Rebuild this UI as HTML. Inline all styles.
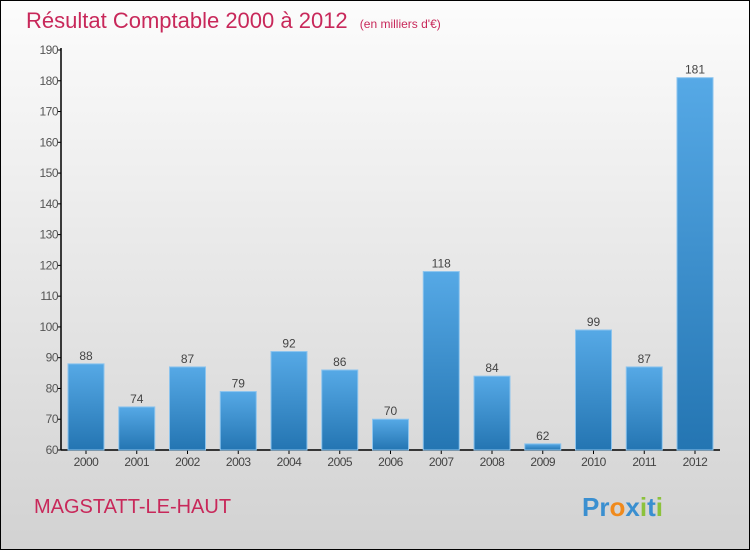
<!DOCTYPE html>
<html><head><meta charset="utf-8"><style>
html,body{margin:0;padding:0}
body{width:750px;height:550px;overflow:hidden;font-family:"Liberation Sans",sans-serif}
#frame{position:absolute;left:0;top:0;width:748px;height:548px;border:1px solid #000;background:linear-gradient(#fcfcfc,#d2d2d2)}
</style></head><body>
<div id="frame"></div>
<svg id="chart" width="750" height="550" style="position:absolute;left:0;top:0">
<defs><linearGradient id="bg" x1="0" y1="0" x2="0" y2="1"><stop offset="0" stop-color="#56a9e6"/><stop offset="1" stop-color="#2475b2"/></linearGradient></defs>
<text x="26" y="28" font-size="22" fill="#c8285a">Résultat Comptable 2000 à 2012 <tspan font-size="12" dx="6">(en milliers d'€)</tspan></text>
<text x="34" y="513" font-size="20" fill="#c8285a">MAGSTATT-LE-HAUT</text>
<text x="582" y="516" font-size="26" font-weight="bold" fill="#3a8fd0"><tspan fill="#3a8fd0">Pr</tspan><tspan fill="#f08a1c">o</tspan><tspan fill="#3a8fd0">x</tspan><tspan fill="#8cc23c">i</tspan><tspan fill="#3a8fd0">t</tspan><tspan fill="#8cc23c">i</tspan></text>
<g id="axes"></g><g id="bars"></g>
</svg>
<script>
const categories=["2000","2001","2002","2003","2004","2005","2006","2007","2008","2009","2010","2011","2012"];
const values=[88,74,87,79,92,86,70,118,84,62,99,87,181];
const yTicks=[60,70,80,90,100,110,120,130,140,150,160,170,180,190];
const NS="http://www.w3.org/2000/svg";
const y0=450,y1=50,vmin=60,vmax=190,xL=61,xR=720;
function y(v){return y0-(v-vmin)/(vmax-vmin)*(y0-y1);}
function x(i){return 86+i*50.75;}
function mk(t,a,p){const e=document.createElementNS(NS,t);for(const k in a)e.setAttribute(k,a[k]);p.appendChild(e);return e;}
const ax=document.getElementById('axes'),bs=document.getElementById('bars');
const yl=mk('line',{x1:xL,y1:y0,x2:xL,y2:y1-2,stroke:'#000','stroke-width':1.5},ax);


const xl=mk('line',{x1:xL,y1:y0,x2:xR,y2:y0,stroke:'#000','stroke-width':1.5},ax);


yTicks.forEach(v=>{
 mk('line',{x1:xL-3,y1:y(v),x2:xL,y2:y(v),stroke:'#000'},ax);
 const t=mk('text',{x:xL-3,y:y(v)+4,'font-size':12,fill:'#555','text-anchor':'end','letter-spacing':'-0.5'},ax);
 t.textContent=v;
 
 
});
categories.forEach((c,i)=>{
 const cx=x(i),w=36;
 const r=mk('rect',{x:cx-w/2,y:y(values[i]),width:w,height:y0-y(values[i]),fill:'url(#bg)',stroke:'#8cc4ee','stroke-width':1},bs);
 
 
 const l=mk('text',{x:cx,y:y(values[i])-4,'font-size':12,fill:'#444','text-anchor':'middle'},bs);
 l.textContent=values[i];
 
 
 mk('line',{x1:cx,y1:y0,x2:cx,y2:y0+4,stroke:'#000'},ax);
 const t=mk('text',{x:cx,y:y0+16,'font-size':12,fill:'#444','text-anchor':'middle','letter-spacing':'-0.5'},ax);
 t.textContent=c;
 
 
});
</script>
</body></html>
